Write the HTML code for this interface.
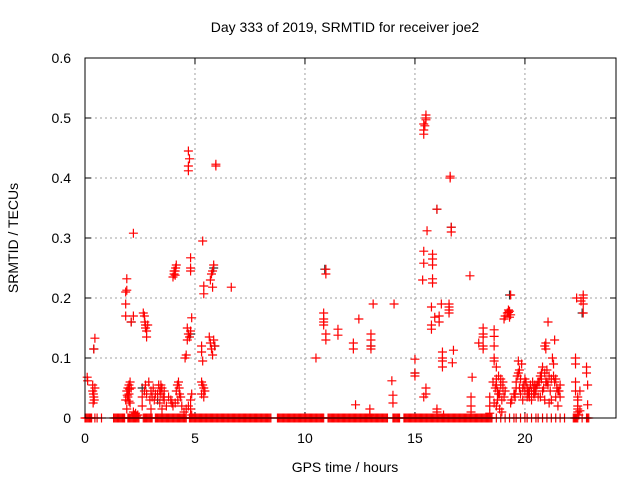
<!DOCTYPE html>
<html><head><meta charset="utf-8"><style>
html,body{margin:0;padding:0;background:#fff;}
svg{display:block;font-family:"Liberation Sans",sans-serif;}
</style></head><body>
<svg id="chart" width="640" height="480" viewBox="0 0 640 480" xmlns="http://www.w3.org/2000/svg">
<rect width="640" height="480" fill="#fff"/>
<text x="345" y="32" font-size="14" text-anchor="middle" fill="#000">Day 333 of 2019, SRMTID for receiver joe2</text>
<text x="345" y="472" font-size="14" text-anchor="middle" fill="#000">GPS time / hours</text>
<text transform="translate(18,238) rotate(-90)" font-size="14" text-anchor="middle" fill="#000">SRMTID / TECUs</text>
<g id="grid"></g>
<g id="ticks"></g>
<g id="marks-black"></g>
<g id="marks-red"></g>
<rect x="85" y="58" width="531" height="360" fill="none" stroke="#000" stroke-width="1"/>
</svg>
<script>
const xTicks=[0,5,10,15,20];
const yTicks=[0,0.1,0.2,0.3,0.4,0.5,0.6];
const yTickLabels=["0","0.1","0.2","0.3","0.4","0.5","0.6"];
const zeroTimes=[0,0.05,0.1,0.15,0.2,0.25,0.3,0.45,0.55,0.75,
1.3,1.35,1.4,1.45,1.5,1.55,1.6,1.65,1.7,1.75,1.8,1.95,2.0,2.05,2.1,2.15,2.2,2.25,2.3,2.35,2.4,2.45,2.65,2.7,2.75,2.8,2.85,2.9,2.95,3.0,3.05,
3.2,3.25,3.3,3.35,3.4,3.45,3.5,3.55,3.6,3.65,3.7,3.75,3.8,3.85,3.9,3.95,4.0,4.05,4.1,4.15,4.2,4.25,4.3,4.35,4.4,4.45,4.5,4.55,4.6,4.75,4.8,4.85,4.9,4.95,5.0,5.05,5.1,5.15,5.2,5.25,5.3,5.35,5.4,5.45,5.5,5.55,5.6,5.65,5.7,5.75,5.8,5.85,5.9,5.95,
6.0,6.05,6.1,6.15,6.2,6.25,6.3,6.35,6.4,6.45,6.5,6.55,6.6,6.65,6.7,6.75,6.8,6.85,6.9,6.95,7.0,7.05,7.1,7.15,7.2,7.25,7.3,7.35,7.4,7.45,7.5,7.55,7.6,7.65,7.7,7.75,7.8,7.85,7.9,7.95,8.0,8.05,8.1,8.15,8.2,8.25,8.3,8.35,8.4,8.45,
8.75,8.8,8.85,8.9,8.95,9.0,9.05,9.1,9.15,9.2,9.25,9.3,9.35,9.4,9.45,9.5,9.55,9.6,9.65,9.7,9.75,9.8,9.85,9.9,9.95,10.0,10.05,10.1,10.15,10.2,10.25,10.3,10.35,10.4,10.45,10.5,10.55,10.6,10.65,10.7,10.75,10.8,10.85,
11.05,11.1,11.15,11.2,11.25,11.3,11.35,11.4,11.45,11.5,11.55,11.6,11.65,11.7,11.75,11.8,11.85,11.9,11.95,12.0,12.05,12.1,12.15,12.2,12.25,12.3,12.35,12.4,12.45,12.5,12.55,12.6,12.65,12.7,12.75,12.8,12.85,12.9,12.95,13.0,13.05,13.1,13.15,13.2,13.25,13.3,13.35,13.4,13.45,13.5,13.55,13.6,13.65,13.7,13.75,
14.0,14.05,14.1,14.15,14.2,14.25,14.3,14.5,14.55,14.6,14.65,14.7,14.75,14.8,14.85,14.9,14.95,15.0,15.05,15.1,15.15,15.2,15.25,15.3,15.35,15.4,15.45,15.5,15.55,15.6,15.65,15.7,15.75,15.8,15.85,15.9,15.95,16.0,16.05,16.1,16.15,16.2,16.25,16.3,16.35,16.4,16.45,16.5,16.55,16.6,16.65,16.7,16.75,16.8,16.85,16.9,16.95,17.0,17.05,17.1,17.15,17.2,17.25,17.3,17.35,17.4,17.45,17.5,17.55,17.6,17.65,17.7,17.75,17.8,17.85,17.9,17.95,18.0,18.05,18.1,18.15,18.2,18.25,18.3,18.35,18.4,18.45,18.5,
18.7,18.9,19.1,19.3,19.5,19.6,19.8,20.0,20.1,20.3,20.5,20.6,20.8,21.0,21.2,21.4,21.6,21.8,22.2,22.25,22.3,22.35,22.4,22.6,22.8,22.85,22.9];
const redTimes=[0.1,0.12,0.35,0.35,0.38,0.4,0.42,0.37,0.45,0.4,0.45,
1.85,1.85,1.85,1.9,1.9,2.1,2.2,2.2,1.85,1.9,1.95,2.0,2.05,1.95,2.0,2.05,1.9,2.1,2.0,1.92,2.02,
2.2,2.25,2.3,2.35,2.4,
2.65,2.7,2.72,2.75,2.75,2.8,2.8,2.85,2.6,2.7,2.75,2.8,2.6,2.9,2.95,3.0,3.05,3.1,3.15,3.2,3.0,
3.35,3.4,3.45,3.5,3.55,3.6,3.4,3.5,3.7,3.8,3.9,3.95,3.3,3.45,3.6,
4.0,4.05,4.1,4.12,4.15,4.05,4.1,4.0,4.1,4.15,4.2,4.25,4.3,4.35,4.4,4.5,4.6,4.7,4.8,4.85,4.22,4.28,
4.7,4.75,4.7,4.7,4.8,4.8,4.8,4.65,4.7,4.75,4.8,4.65,4.6,4.55,4.85,4.85,4.8,
5.35,5.4,5.4,5.3,5.3,5.35,5.3,5.35,5.4,5.45,5.3,5.4,
5.65,5.7,5.75,5.8,5.85,5.7,5.75,5.8,5.85,5.8,5.95,5.95,5.9,6.65,
10.5,10.85,10.85,10.85,10.85,10.95,10.95,10.95,10.95,11.5,11.5,12.2,12.2,12.3,12.45,12.95,12.95,13.0,13.0,13.0,13.0,13.1,
13.95,14.0,14.0,14.05,15.0,15.0,15.0,15.4,15.4,15.4,15.5,15.5,15.5,15.45,15.55,15.4,15.4,15.35,15.4,15.5,15.5,
15.8,15.8,15.8,15.8,15.8,15.75,15.75,15.75,15.9,16.0,16.1,16.1,16.2,16.25,16.25,16.25,16.25,16.0,16.0,16.3,
16.55,16.55,16.55,16.55,16.6,16.6,16.65,16.65,16.75,16.7,
17.5,17.6,17.55,17.55,17.55,17.9,18.1,18.1,18.1,18.1,18.1,18.4,18.4,18.4,
18.6,18.6,18.6,18.6,18.6,18.7,18.7,18.7,18.55,18.65,18.75,18.8,18.85,18.9,18.95,19.0,19.05,19.1,18.6,18.8,18.9,19.0,18.7,18.75,18.85,18.95,19.05,19.1,
19.2,19.25,19.3,19.35,19.3,19.25,19.35,19.4,19.35,
19.5,19.55,19.6,19.65,19.7,19.75,19.8,19.85,19.9,19.95,20.0,20.05,20.1,20.15,20.2,20.25,20.3,20.35,20.4,20.45,20.5,20.55,20.6,20.65,20.7,20.75,20.8,20.85,20.9,20.95,21.0,21.05,21.1,21.15,21.2,21.25,21.3,21.35,21.4,21.45,21.5,21.55,21.6,
19.6,19.7,19.8,19.9,20.0,20.1,20.2,20.3,20.4,20.5,20.6,20.7,20.8,20.9,21.0,21.1,21.2,21.3,21.4,21.5,21.6,19.55,19.75,20.15,20.45,20.75,21.05,21.35,
20.9,20.95,20.95,
22.3,22.3,22.3,22.3,22.4,22.4,22.4,22.4,22.4,22.5,22.5,22.45,22.35,22.55,22.65,22.65,22.65,22.65,22.8,22.8,22.85,22.85,22.85,22.8];
const redValues=[0.068,0.062,0.055,0.045,0.04,0.035,0.03,0.025,0.05,0.115,0.133,
0.17,0.19,0.21,0.213,0.232,0.16,0.17,0.308,0.03,0.045,0.05,0.055,0.06,0.035,0.04,0.025,0.015,0.05,0.028,0.038,0.048,
0.01,0.005,0.008,0.003,0.005,
0.175,0.17,0.16,0.155,0.15,0.145,0.135,0.155,0.035,0.045,0.055,0.04,0.02,0.06,0.03,0.045,0.035,0.05,0.03,0.04,0.015,
0.055,0.045,0.04,0.05,0.035,0.03,0.025,0.015,0.02,0.035,0.03,0.025,0.04,0.055,0.045,
0.235,0.24,0.245,0.25,0.255,0.245,0.238,0.02,0.025,0.045,0.055,0.06,0.04,0.035,0.02,0.01,0.015,0.02,0.015,0.005,0.03,0.05,
0.445,0.432,0.42,0.412,0.267,0.25,0.245,0.15,0.14,0.135,0.145,0.13,0.105,0.1,0.167,0.04,0.03,
0.295,0.22,0.207,0.12,0.11,0.095,0.06,0.055,0.05,0.045,0.04,0.035,
0.135,0.125,0.115,0.105,0.13,0.23,0.24,0.245,0.255,0.218,0.42,0.423,0.12,0.218,
0.1,0.175,0.165,0.16,0.155,0.14,0.13,0.248,0.24,0.148,0.138,0.125,0.115,0.022,0.165,0.015,0.005,0.14,0.13,0.12,0.115,0.19,
0.062,0.038,0.025,0.19,0.098,0.075,0.07,0.473,0.48,0.49,0.5,0.505,0.497,0.487,0.312,0.278,0.258,0.23,0.035,0.05,0.04,
0.255,0.265,0.273,0.225,0.232,0.185,0.155,0.148,0.168,0.348,0.17,0.16,0.19,0.1,0.095,0.11,0.085,0.015,0.01,0.005,
0.19,0.185,0.18,0.175,0.4,0.403,0.318,0.31,0.113,0.092,
0.237,0.068,0.035,0.02,0.01,0.125,0.15,0.14,0.135,0.12,0.115,0.035,0.02,0.008,
0.147,0.136,0.12,0.1,0.095,0.085,0.065,0.055,0.06,0.05,0.045,0.07,0.04,0.055,0.03,0.05,0.035,0.045,0.025,0.04,0.065,0.06,0.02,0.03,0.015,0.01,
0.165,0.17,0.175,0.18,0.178,0.172,0.168,0.176,0.205,
0.03,0.025,0.04,0.035,0.06,0.07,0.075,0.08,0.065,0.09,0.05,0.055,0.045,0.06,0.05,0.04,0.035,0.055,0.045,0.06,0.05,0.04,0.045,0.055,0.035,0.06,0.07,0.065,0.085,0.05,0.075,0.06,0.08,0.055,0.07,0.045,0.065,0.1,0.09,0.06,0.035,0.05,0.045,
0.045,0.035,0.05,0.095,0.04,0.03,0.065,0.035,0.045,0.03,0.04,0.05,0.06,0.035,0.045,0.03,0.06,0.025,0.03,0.07,0.065,0.02,0.055,0.04,0.05,0.045,0.055,0.075,
0.16,0.13,0.12,
0.125,0.115,0.1,0.09,0.06,0.045,0.035,0.02,0.01,0.03,0.015,0.045,0.012,0.005,0.2,0.195,0.19,0.175,0.205,0.2,0.085,0.075,0.055,0.022];
const blackTimes=[0.4,2.1,2.6,5.9,5.85,10.9,13.0,15.0,16.0,16.65,19.3,22.6,4.8,20.5,3.3];
const blackValues=[0.115,0.16,0.05,0.12,0.25,0.248,0.12,0.075,0.348,0.318,0.205,0.175,0.14,0.05,0.03];

const X0=85,X1=616,Y0=418,Y1=58,XMAX=24.14,YMAX=0.6;
function xs(v){return X0+(X1-X0)*v/XMAX;}
function ys(v){return Y0-(Y0-Y1)*v/YMAX;}
const NS="http://www.w3.org/2000/svg";
const grid=document.getElementById('grid'),ticks=document.getElementById('ticks');
function mk(tag,attrs,parent){const e=document.createElementNS(NS,tag);for(const k in attrs)e.setAttribute(k,attrs[k]);parent.appendChild(e);return e;}
xTicks.forEach((t,i)=>{
  const x=xs(t);
  if(t>0){const g=mk('line',{x1:x,x2:x,y1:Y1,y2:Y0,stroke:'#a0a0a0','stroke-dasharray':'2,3'},grid);
  
  }
  const a=mk('line',{x1:x,x2:x,y1:Y0,y2:Y0-6,stroke:'#000'},ticks);
  
  
  const b=mk('line',{x1:x,x2:x,y1:Y1,y2:Y1+6,stroke:'#000'},ticks);
  
  
  const l=mk('text',{x:x,y:443,'font-size':14,'text-anchor':'middle',fill:'#000'},ticks);
  l.textContent=String(t);
  
  
});
yTicks.forEach((t,i)=>{
  const y=ys(t);
  if(t>0&&t<YMAX){const g=mk('line',{x1:X0,x2:X1,y1:y,y2:y,stroke:'#a0a0a0','stroke-dasharray':'2,3'},grid);
  
  }
  const a=mk('line',{x1:X0,x2:X0+6,y1:y,y2:y,stroke:'#000'},ticks);
  
  
  const b=mk('line',{x1:X1,x2:X1-6,y1:y,y2:y,stroke:'#000'},ticks);
  
  
  const l=mk('text',{x:X0-14,y:y+5,'font-size':14,'text-anchor':'end',fill:'#000'},ticks);
  l.textContent=yTickLabels[i];
  
  
});
function plus(x,y,color,parent,name){
  const p=mk('path',{d:`M${x-4.5} ${y}H${x+4.5}M${x} ${y-4.5}V${y+4.5}`,stroke:color,'stroke-width':1.2,fill:'none'},parent);
  
  
}
const gb=document.getElementById('marks-black'),gr=document.getElementById('marks-red');
blackTimes.forEach((t,i)=>plus(xs(t),ys(blackValues[i]),'#333',gb,'black-point'));
zeroTimes.forEach(t=>plus(xs(t),ys(0),'#ff0000',gr,'zero-point'));
redTimes.forEach((t,i)=>plus(xs(t),ys(redValues[i]),'#ff0000',gr,'red-point'));
</script>
</body></html>
